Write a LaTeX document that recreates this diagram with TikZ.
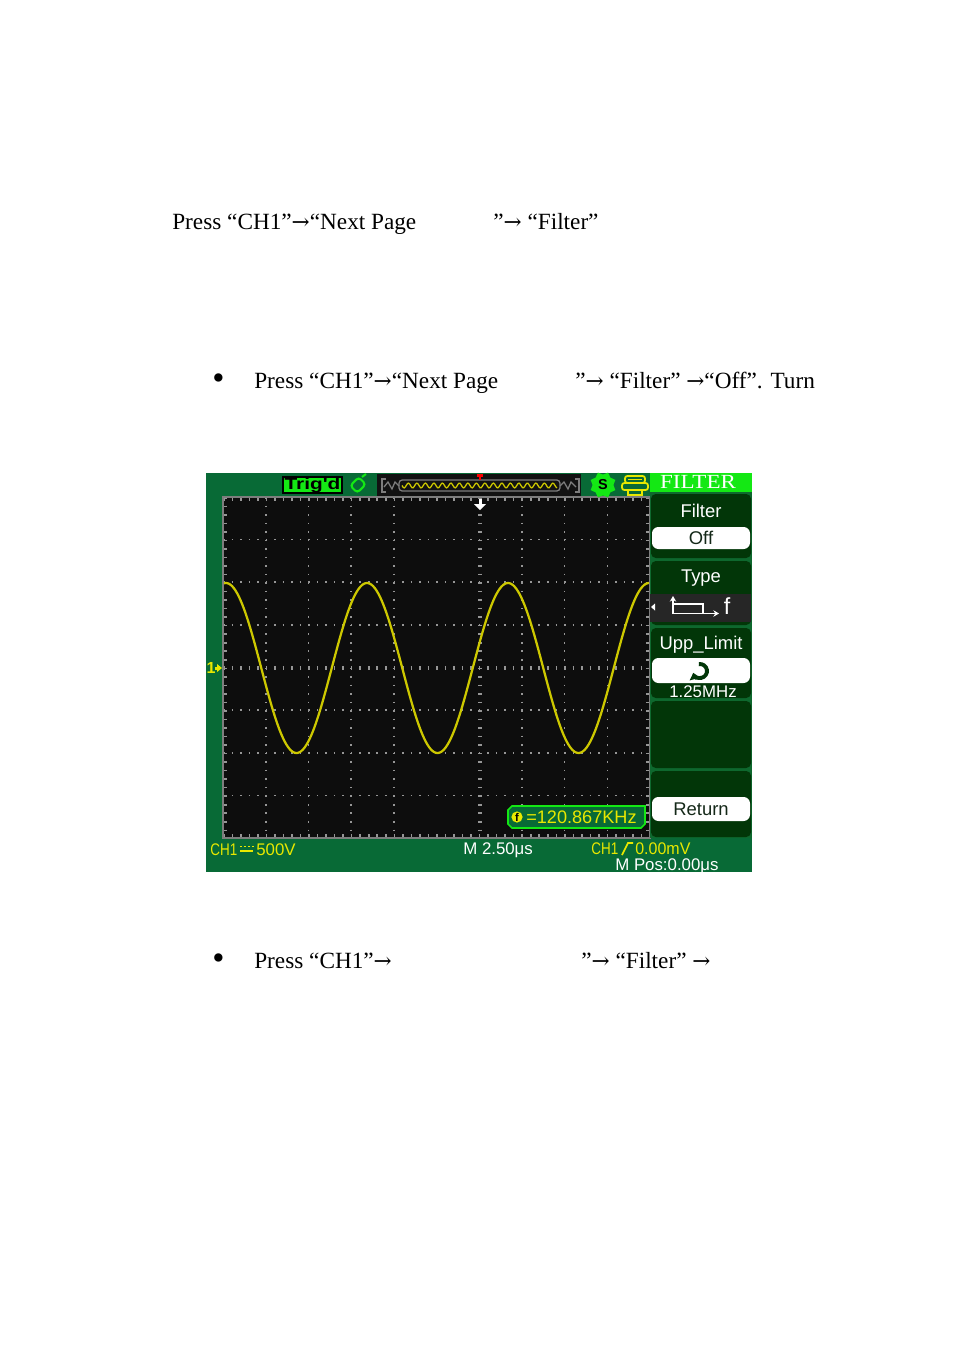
\documentclass[tikz,border=0pt]{standalone}
\usepackage{fontspec}
\setmainfont{Liberation Serif}
\newfontfamily\scopefont{Liberation Sans}
\newfontfamily\arrowfont{DejaVu Serif}
\newcommand{\rarr}{{\arrowfont\fontsize{13.5}{14}\selectfont →}}
\newcommand{\bigbul}{\raisebox{-0.1ex}{\scalebox{1.5}{•}}}
\usetikzlibrary{arrows.meta,shapes.geometric}
\definecolor{scopegreen}{RGB}{8,106,54}
\definecolor{brightgreen}{RGB}{20,232,20}
\definecolor{menudark}{RGB}{2,54,8}
\definecolor{menuborder}{RGB}{14,104,46}
\definecolor{gridblack}{RGB}{13,13,13}
\definecolor{dotgrey}{RGB}{150,150,150}
\definecolor{bordergrey}{RGB}{125,125,125}
\definecolor{waveyellow}{RGB}{205,200,0}
\definecolor{scopeyellow}{RGB}{232,232,0}
\definecolor{bandgrey}{RGB}{38,38,38}
\definecolor{darkbar}{RGB}{18,18,18}
\definecolor{btntext}{RGB}{20,40,24}
\tikzset{
  body/.style={anchor=base west, inner sep=0pt, font=\fontsize{14.5}{16}\selectfont},
  griddot/.style={draw=dotgrey, line width=1pt, dash pattern=on 1pt off 4.32pt},
  tickv/.style={draw=dotgrey, line width=2.6pt, dash pattern=on 1pt off 4.32pt},
  wave/.style={draw=waveyellow, line width=1.4pt, line join=round},
  menubox/.style={fill=menudark, rounded corners=3pt},
  menulabel/.style={inner sep=0pt, text=white, font=\scopefont\fontsize{11.5}{12}\selectfont},
  btnlabel/.style={inner sep=0pt, text=btntext, font=\scopefont\fontsize{11.5}{12}\selectfont},
  yel/.style={anchor=west, inner sep=0pt, text=scopeyellow, font=\scopefont\fontsize{10.5}{11}\selectfont},
  wht/.style={anchor=west, inner sep=0pt, text=white, font=\scopefont\fontsize{10.5}{11}\selectfont},
  iconline/.style={draw=white, line width=1pt},
}
\begin{document}
\begin{tikzpicture}[x=0.624pt,y=-0.624pt]
\useasboundingbox (0,0) rectangle (954,1354);
\fill[white] (0,0) rectangle (954,1354);

% ---- body text ----
\node[body] (t1a) at (172,229) {Press “CH1”\rarr“Next Page};
\node[body] (t1b) at (493,229) {”\rarr\ “Filter”};
\node[body] (b2) at (212,388) {\bigbul};
\node[body] (t2a) at (254,388) {Press “CH1”\rarr“Next Page};
\node[body] (t2b) at (575,388) {”\rarr\ “Filter” \rarr“Off”. Turn};
\node[body] (b3) at (212,968) {\bigbul};
\node[body] (t3a) at (254,968) {Press “CH1”\rarr};
\node[body] (t3b) at (581,968) {”\rarr\ “Filter” \rarr};

% ---- oscilloscope frame ----
\fill[scopegreen] (206,473) rectangle (752,872);
\fill[gridblack] (223,497) rectangle (650,838);

% grid dots
\foreach \i in {1,2,3,4,6,7,8,9}
  \draw[griddot] ({223+\i*42.7},497) -- ({223+\i*42.7},838);
\foreach \j in {1,2,3,5,6,7}
  \draw[griddot] (223,{497+\j*42.625}) -- (650,{497+\j*42.625});
% centre axes with ticks
\draw[tickv] (480,497) -- (480,838);
\draw[tickv] (223,668) -- (650,668);
% border ticks
\draw[draw=dotgrey, line width=2pt, dash pattern=on 1pt off 4.32pt] (223,499.5) -- (650,499.5);
\draw[draw=dotgrey, line width=2pt, dash pattern=on 1pt off 4.32pt] (223,835.5) -- (650,835.5);
\draw[draw=dotgrey, line width=2pt, dash pattern=on 1pt off 4.32pt] (225.5,497) -- (225.5,838);
\draw[draw=dotgrey, line width=2pt, dash pattern=on 1pt off 4.32pt] (647.5,497) -- (647.5,838);
\draw[draw=bordergrey, line width=1.2pt] (223,497) rectangle (650,838);

% waveform
\draw[wave] plot[domain=224:649, samples=260] (\x,{668-85*cos((\x-367)*2.55319)});

% trigger position arrow
\fill[white] (478.5,499) rectangle (481.5,504);
\fill[white] (474,504) -- (486,504) -- (480,510) -- cycle;

% channel 1 marker
\node[inner sep=0pt, text=scopeyellow, font=\scopefont\bfseries\fontsize{10}{10}\selectfont] (one) at (211,668) {1};
\fill[scopeyellow] (215,666.5) rectangle (218,669.5);
\fill[scopeyellow] (217,664) -- (222,668) -- (217,672) -- cycle;

% ---- top bar ----
\filldraw[fill=brightgreen, draw=black, line width=0.8pt] (283,477) rectangle (342,493);
\node[inner sep=0pt, text=black, font=\scopefont\bfseries\fontsize{10}{10}\selectfont] (trig) at (312.5,485) {\scalebox{1.3}[1]{Trig'd}};
\draw[brightgreen, line width=1.3pt, rounded corners=2pt, rotate around={45:(358,485)}] (352,480) rectangle (364,490);
\draw[brightgreen, line width=1.3pt] (362,477) -- (366,474);

\fill[darkbar] (377,474) rectangle (581,496);
\draw[bordergrey, line width=0.8pt, rounded corners=2pt] (399,480) rectangle (560,491);
\draw[waveyellow, line width=0.8pt] plot[domain=402:557, samples=140] (\x,{485.5+2.4*sin((\x-402)*42.353)});
\draw[bordergrey, line width=0.8pt] (386,479) -- (382,479) -- (382,492) -- (386,492);
\draw[bordergrey, line width=0.8pt] (384,487) -- (388,482) -- (392,489) -- (395,482) -- (399,486);
\draw[bordergrey, line width=0.8pt] (575,479) -- (579,479) -- (579,492) -- (575,492);
\draw[bordergrey, line width=0.8pt] (560,486) -- (564,482) -- (568,489) -- (571,482) -- (576,487);
\fill[red] (477,474) rectangle (483,476.5);
\fill[red] (479.2,476) rectangle (480.8,480);

\node[star, star points=8, star point ratio=0.78, fill=brightgreen, minimum size=13pt, inner sep=0pt, text=black, font=\scopefont\bfseries\fontsize{9}{9}\selectfont] (sicon) at (603,485) {S};
\draw[scopeyellow, line width=1.1pt, rounded corners=1.5pt] (625,476) rectangle (645,483);
\draw[scopeyellow, line width=1.1pt, rounded corners=1.5pt] (622,483) rectangle (648,490);
\draw[scopeyellow, line width=1.1pt] (628,490) rectangle (642,495);
\draw[scopeyellow, line width=0.8pt] (628,479.5) -- (642,479.5);

% ---- menu panel ----
\fill[menuborder] (650,492) rectangle (752,838);
\fill[brightgreen] (650,473) rectangle (752,492);
\node[inner sep=0pt, text=white, font=\rmfamily\fontsize{12.5}{13}\selectfont] (hdr) at (698,482) {\scalebox{1.15}[1]{FILTER}};

\fill[menubox] (651,494) rectangle (751,558);
\fill[menubox] (651,561) rectangle (751,625);
\fill[menubox] (651,628) rectangle (751,698);
\fill[menubox] (651,701) rectangle (751,768);
\fill[menubox] (651,771) rectangle (751,837);

\node[menulabel] (lfilter) at (701,511) {Filter};
\fill[white, rounded corners=4pt] (652,527) rectangle (750,549);
\node[btnlabel] (off) at (701,538) {Off};

\node[menulabel] (ltype) at (701,578) {Type};
\fill[bandgrey] (650,594) rectangle (751,622);
\fill[white] (651,607) -- (655,603.5) -- (655,610.5) -- cycle;
\draw[iconline, -{Stealth[length=3.5pt,width=4pt]}] (673,614) -- (673,596);
\draw[iconline] (673,604) -- (703,604) -- (703,613);
\draw[iconline, -{Stealth[length=3.5pt,width=4pt]}] (673,613.5) -- (719,613.5);
\node[inner sep=0pt, text=white, font=\scopefont\fontsize{14.5}{14}\selectfont] (fsym) at (727,606) {f};

\node[menulabel] (lupp) at (701,645) {Upp\_Limit};
\fill[white, rounded corners=4pt] (652,658) rectangle (750,683);
\draw[menudark, line width=2.4pt, -{Triangle[length=4pt,width=6.5pt]}] (700,671) ++(-100:7) arc[start angle=-100, end angle=165, radius=7];
\node[inner sep=0pt, text=white, font=\scopefont\fontsize{10.5}{11}\selectfont] (lim) at (703,692) {1.25MHz};

\fill[white, rounded corners=4pt] (652,797) rectangle (750,821);
\node[btnlabel] (ret) at (701,809) {Return};

% ---- frequency readout ----
\filldraw[fill=scopegreen, draw=brightgreen, line width=1pt] (512,806) -- (645,806) -- (645,824) -- (641,828) -- (512,828) -- (508,824) -- (508,810) -- cycle;
\node[circle, fill=scopeyellow, inner sep=0pt, minimum size=7pt, text=black, font=\scopefont\bfseries\fontsize{7}{7}\selectfont] (ficon) at (517,817) {f};
\node[yel, font=\scopefont\fontsize{11.3}{11}\selectfont] (freq) at (526,817) {=120.867KHz};

% ---- bottom status ----
\node[yel] (ch1a) at (210,850) {\scalebox{0.8}[1]{CH1}};
\foreach \k in {0,1,2,3} \fill[scopeyellow] ({240+\k*4},845.5) rectangle ({241.5+\k*4},847);
\fill[scopeyellow] (240,850) rectangle (253,851.5);
\node[yel] (volt) at (256,850) {500V};
\node[wht] (tb) at (463,850) {M 2.50μs};
\node[yel] (ch1b) at (591,849) {\scalebox{0.8}[1]{CH1}};
\draw[scopeyellow, line width=1.1pt] (622,855) -- (628,843) -- (633,843);
\node[yel] (lvl) at (635,849) {\scalebox{0.95}[1]{0.00mV}};
\node[wht] (mpos) at (615,866.5) {M Pos:0.00μs};
\end{tikzpicture}
\end{document}
